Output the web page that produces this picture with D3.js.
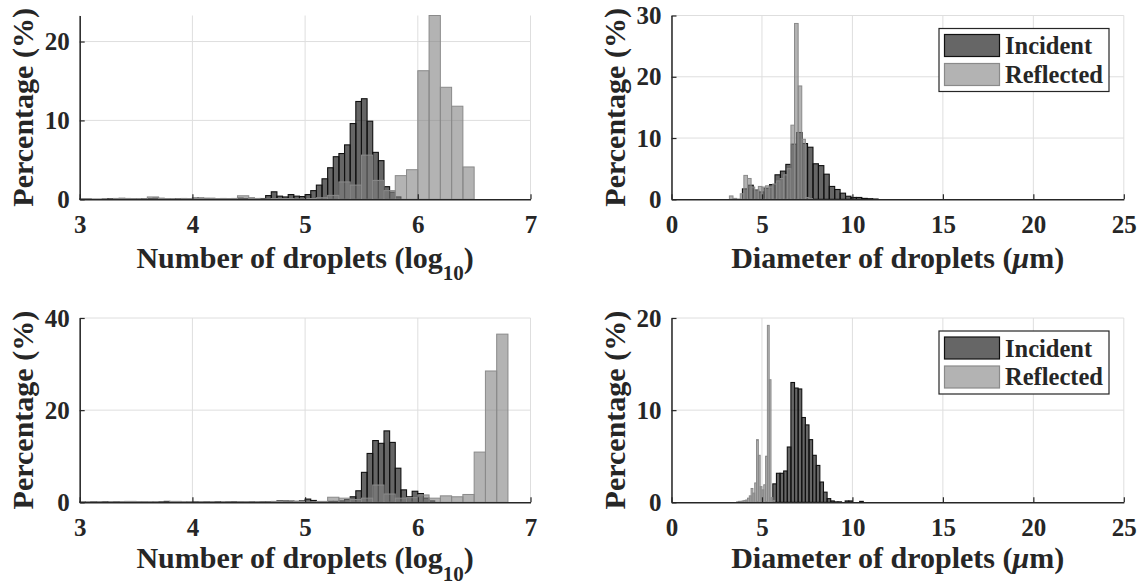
<!DOCTYPE html>
<html><head><meta charset="utf-8">
<script src="https://cdn.jsdelivr.net/npm/d3@7"></script>
<style>
body{margin:0;background:#fff}
svg{display:block}
text{font-family:"Liberation Serif","Times New Roman",serif;font-weight:bold;fill:#262626}
</style>
</head><body>
<svg id="chart" width="1138" height="588"></svg>
<script>
// ---------------- data ----------------
const seriesNames = ["Incident", "Reflected"];

// Panel 1 : Number of droplets (log10)
const p1IncidentStart = 3.0, p1IncidentWidth = 0.05;
const p1Incident = [
  0.05,0.05,0,0,0.03,0.05,0.1,0.12,0.1,0.05,
  0.03,0.05,0.1,0.15,0.12,0.05,0.03,0.05,0.1,0.05,
  0.15,0.15,0.1,0.05,0.05,0.1,0.05,0.1,0.15,0.1,
  0.15,0.1,0.1,0.47,0.95,0.4,0.3,0.6,0.4,0.35,
  0.6,1.1,1.8,2.6,4.0,5.4,5.8,6.9,9.6,12.4,
  12.75,9.9,5.95,4.9,1.6,0.9,0.3];
const p1ReflectedStart = 3.0, p1ReflectedWidth = 0.1;
const p1Reflected = [
  0.1,0.05,0,0.1,0.1,0.05,0.3,0.1,0.05,0.1,
  0.1,0.15,0.1,0.1,0.45,0.1,0.05,0.1,0.1,0.05,
  0.1,0.2,0.5,2.2,1.8,5.6,2.4,1.1,3.0,3.75,
  16.3,23.3,14.2,11.8,4.1];

// Panel 2 : Diameter of droplets (um)
const p2IncidentStart = 3.92, p2IncidentWidth = 0.3;
const p2Incident = [1.7,2.3,1.5,1.2,1.8,2.4,4.0,4.6,5.7,9.0,10.9,9.1,8.5,5.8,5.5,4.1,2.1,1.6,1.0,0.5,0.3,0.3,0.15,0.1,0.05];
const p2ReflectedStart = 3.2, p2ReflectedWidth = 0.2;
const p2Reflected = [0.55,0.15,0.05,0.9,3.9,3.4,2.0,1.6,2.1,2.0,2.2,2.0,2.5,3.0,3.4,4.0,5.0,12.1,28.7,18.5,9.8,0.3,0.1];

// Panel 3 : Number of droplets (log10)
const p3IncidentStart = 3.0, p3IncidentWidth = 0.05;
const p3Incident = [
  0.05,0.03,0.1,0.05,0.1,0.05,0.1,0.05,0.03,0.05,
  0.05,0.05,0.03,0.05,0.1,0.2,0.1,0.05,0.03,0.05,
  0.1,0.05,0.1,0.05,0.1,0.05,0.1,0.15,0.1,0.05,
  0.1,0.05,0.1,0.1,0.15,0.3,0.3,0.25,0.2,0.3,
  0.7,0.4,0.1,0.15,0.2,0.2,0.3,0.6,1.2,2.5,
  6.5,10.6,13.4,12.8,15.5,13.0,7.4,2.7,1.2,2.4,
  1.9,0.9,0.3];
const p3ReflectedStart = 3.0, p3ReflectedWidth = 0.1;
const p3Reflected = [
  0.05,0.1,0.05,0.1,0.2,0.15,0.1,0.05,0.2,0.1,
  0.1,0.1,0.05,0.1,0.15,0.1,0.1,0.2,0.3,0.2,
  0.1,0.2,1.1,0.9,0.6,0.9,3.75,1.8,0.9,1.0,
  1.6,0.9,1.4,1.2,1.7,10.9,28.5,36.5];

// Panel 4 : Diameter of droplets (um)
const p4IncidentStart = 5.6, p4IncidentWidth = 0.2;
const p4Incident = [2.0,3.15,3.15,3.4,6.0,13.0,12.4,12.3,9.2,8.4,6.8,5.1,4.0,2.2,1.1,0.4,0.15,0.05,0.05,0,0.15,0.15,0,0,0.1];
const p4ReflectedStart = 3.6, p4ReflectedWidth = 0.1;
const p4Reflected = [0.05,0.1,0.1,0.15,0.2,0.25,0.45,0.7,1.5,1.0,2.1,6.8,5.1,1.7,1.35,1.9,5.0,19.2,13.3,0.5,0.2];

// axis ticks
const logTicks = [3,4,5,6,7];
const diamTicks = [0,5,10,15,20,25];
const p1YTicks = [0,10,20], p2YTicks = [0,10,20,30], p3YTicks = [0,20,40], p4YTicks = [0,10,20];
const p1YMax = 23.3, p2YMax = 30, p3YMax = 40, p4YMax = 20;
const yLabel = "Percentage (%)";

// ---------------- layout ----------------
const svg = d3.select("#chart");
const LX = [79.7, 530.5], RX = [671.5, 1123.8];
const TOP = [199.3, 15.5], BOT = [502.3, 318];

const panels = [
  {xr: LX, yr: TOP, lab: 68.5, xd: [3,7], xt: logTicks, yMax: p1YMax, yt: p1YTicks, kind: "log",
   inc: [p1IncidentStart, p1IncidentWidth, p1Incident], ref: [p1ReflectedStart, p1ReflectedWidth, p1Reflected], legend: false},
  {xr: RX, yr: TOP, lab: 68.5, xd: [0,25], xt: diamTicks, yMax: p2YMax, yt: p2YTicks, kind: "diam",
   inc: [p2IncidentStart, p2IncidentWidth, p2Incident], ref: [p2ReflectedStart, p2ReflectedWidth, p2Reflected], legend: true},
  {xr: LX, yr: BOT, lab: 66, xd: [3,7], xt: logTicks, yMax: p3YMax, yt: p3YTicks, kind: "log",
   inc: [p3IncidentStart, p3IncidentWidth, p3Incident], ref: [p3ReflectedStart, p3ReflectedWidth, p3Reflected], legend: false},
  {xr: RX, yr: BOT, lab: 66, xd: [0,25], xt: diamTicks, yMax: p4YMax, yt: p4YTicks, kind: "diam",
   inc: [p4IncidentStart, p4IncidentWidth, p4Incident], ref: [p4ReflectedStart, p4ReflectedWidth, p4Reflected], legend: true}
];

const incStyle = {fill: "rgba(0,0,0,0.6)", stroke: "#111", sw: 1.1};
const refStyle = {fill: "rgba(128,128,128,0.6)", stroke: "#8a8a8a", sw: 1};
const gridColor = "#dedede", axisColor = "#262626";

function bins(spec) {
  const [start, w, vals] = spec;
  return vals.map((v, i) => ({x0: +(start + i * w).toFixed(4), x1: +(start + (i + 1) * w).toFixed(4), v}));
}

panels.forEach(p => {
  const x = d3.scaleLinear().domain(p.xd).range(p.xr);
  const y = d3.scaleLinear().domain([0, p.yMax]).range(p.yr);
  const g = svg.append("g");

  // grid
  g.append("g").selectAll("line").data(p.xt).join("line")
    .attr("x1", d => x(d)).attr("x2", d => x(d)).attr("y1", p.yr[0]).attr("y2", p.yr[1])
    .attr("stroke", gridColor).attr("stroke-width", 1);
  g.append("g").selectAll("line").data(p.yt.filter(t => t > 0)).join("line")
    .attr("x1", p.xr[0]).attr("x2", p.xr[1]).attr("y1", d => y(d)).attr("y2", d => y(d))
    .attr("stroke", gridColor).attr("stroke-width", 1);

  // bars
  [[p.inc, incStyle], [p.ref, refStyle]].forEach(([spec, st]) => {
    g.append("g").selectAll("rect").data(bins(spec).filter(b => b.v > 0)).join("rect")
      .attr("x", b => x(b.x0)).attr("width", b => x(b.x1) - x(b.x0))
      .attr("y", b => y(b.v)).attr("height", b => y(0) - y(b.v))
      .attr("fill", st.fill).attr("stroke", st.stroke).attr("stroke-width", st.sw);
  });

  // axes
  const xa = g.append("g").attr("transform", `translate(0,${p.yr[0]})`)
    .call(d3.axisBottom(x).tickValues(p.xt).tickFormat(d3.format("d")).tickSizeInner(-5).tickSizeOuter(0).tickPadding(16));
  const ya = g.append("g").attr("transform", `translate(${p.xr[0]},0)`)
    .call(d3.axisLeft(y).tickValues(p.yt).tickFormat(d3.format("d")).tickSizeInner(-5).tickSizeOuter(0).tickPadding(10));
  [xa, ya].forEach(a => {
    a.select(".domain").attr("stroke", axisColor).attr("stroke-width", 1.5);
    a.selectAll(".tick line").attr("stroke", axisColor).attr("stroke-width", 1.2);
    a.selectAll(".tick text").attr("fill", axisColor).style("font-size", "25px")
      .style("font-family", '"Liberation Serif","Times New Roman",serif').style("font-weight", "bold");
  });

  // x label
  const cx = (p.xr[0] + p.xr[1]) / 2;
  const xl = g.append("text").attr("x", cx).attr("y", p.yr[0] + p.lab).attr("text-anchor", "middle").style("font-size", "30px");
  if (p.kind === "log") {
    xl.append("tspan").text("Number of droplets (log");
    xl.append("tspan").attr("dy", 12.5).style("font-size", "21px").text("10");
    xl.append("tspan").attr("dy", -12.5).text(")");
  } else {
    xl.append("tspan").text("Diameter of droplets (");
    xl.append("tspan").style("font-style", "italic").text("\u03bc");
    xl.append("tspan").text("m)");
  }

  // y label
  const cy = (p.yr[0] + p.yr[1]) / 2;
  g.append("text").attr("transform", `translate(${p.xr[0] - 47},${cy}) rotate(-90)`)
    .attr("text-anchor", "middle").style("font-size", "30px").text(yLabel);

  // legend
  if (p.legend) {
    const lx = 939, ly = p.yr[1] + 13, lw = 170, lh = 63;
    const lg = g.append("g");
    lg.append("rect").attr("x", lx).attr("y", ly).attr("width", lw).attr("height", lh)
      .attr("fill", "#fff").attr("stroke", axisColor).attr("stroke-width", 1.2);
    [incStyle, refStyle].forEach((st, i) => {
      lg.append("rect").attr("x", lx + 5.5).attr("y", ly + 6 + i * 29).attr("width", 55).attr("height", 22)
        .attr("fill", st.fill).attr("stroke", st.stroke).attr("stroke-width", 1.2);
      lg.append("text").attr("x", lx + 66).attr("y", ly + 25.5 + i * 28.5).style("font-size", "24.5px").text(seriesNames[i]);
    });
  }
});
</script>
</body></html>
